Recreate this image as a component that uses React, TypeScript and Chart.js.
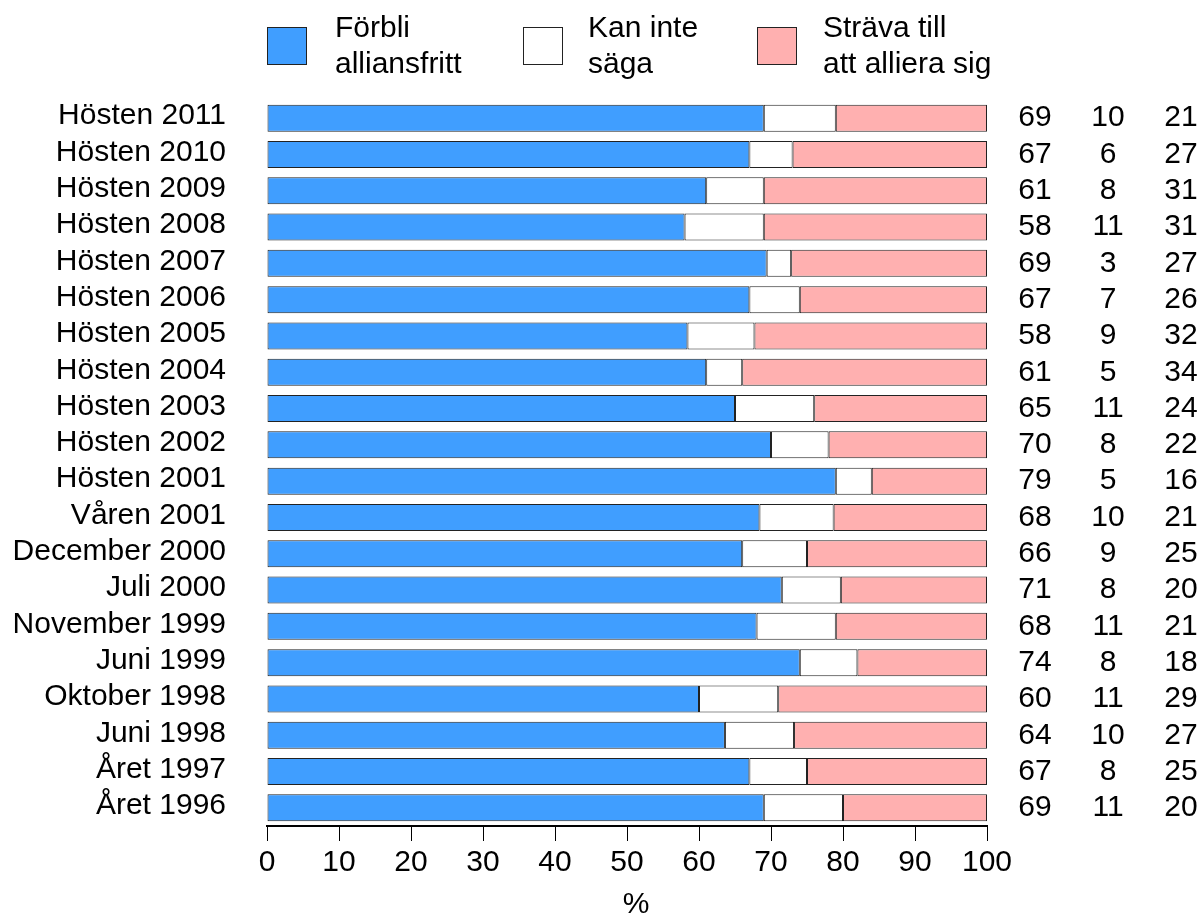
import React, { useEffect, useRef } from "react";
import { Chart, registerables } from "chart.js";

Chart.register(...registerables);

const categories = [
  "Hösten 2011", "Hösten 2010", "Hösten 2009", "Hösten 2008", "Hösten 2007",
  "Hösten 2006", "Hösten 2005", "Hösten 2004", "Hösten 2003", "Hösten 2002",
  "Hösten 2001", "Våren 2001", "December 2000", "Juli 2000", "November 1999",
  "Juni 1999", "Oktober 1998", "Juni 1998", "Året 1997", "Året 1996",
];

// Printed values (right-hand columns)
const labelAlliansfritt = [69, 67, 61, 58, 69, 67, 58, 61, 65, 70, 79, 68, 66, 71, 68, 74, 60, 64, 67, 69];
const labelKanInte = [10, 6, 8, 11, 3, 7, 9, 5, 11, 8, 5, 10, 9, 8, 11, 8, 11, 10, 8, 11];
const labelAlliera = [21, 27, 31, 31, 27, 26, 32, 34, 24, 22, 16, 21, 25, 20, 21, 18, 29, 27, 25, 20];

// Bar segment lengths
const barAlliansfritt = [69, 67, 61, 58, 69.4, 67, 58.4, 61, 65, 70, 79, 68.4, 66, 71.5, 68, 74, 60, 63.6, 67, 69];
const barKanInte = [10, 6, 8, 11, 3.4, 7, 9.3, 5, 11, 8, 5, 10.3, 9, 8.2, 11, 8, 11, 9.6, 8, 11];
const barAlliera = [21, 27, 31, 31, 27.2, 26, 32.3, 34, 24, 22, 16, 21.3, 25, 20.3, 21, 18, 29, 26.8, 25, 20];

const xTicks = [0, 10, 20, 30, 40, 50, 60, 70, 80, 90, 100];

const seriesNames = [["Förbli", "alliansfritt"], ["Kan inte", "säga"], ["Sträva till", "att alliera sig"]];
const colors = ["#409EFF", "#FFFFFF", "#FFB0B0"];

const FONT = "'Liberation Sans', Arial, sans-serif";

const overlay = {
  id: "overlay",
  afterDraw(chart: any) {
    const ctx = chart.ctx;
    const yScale = chart.scales.y;
    ctx.save();
    ctx.font = `30px ${FONT}`;
    ctx.fillStyle = "#000";
    // Legend
    const boxX = [267, 523, 757];
    const textX = [335, 588, 823];
    for (let i = 0; i < 3; i++) {
      ctx.fillStyle = colors[i];
      ctx.fillRect(boxX[i], 27, 39, 37);
      ctx.strokeStyle = "#222";
      ctx.lineWidth = 1;
      ctx.strokeRect(boxX[i] + 0.5, 27.5, 39, 37);
      ctx.fillStyle = "#000";
      ctx.textAlign = "left";
      ctx.textBaseline = "alphabetic";
      ctx.fillText(seriesNames[i][0], textX[i], 37);
      ctx.fillText(seriesNames[i][1], textX[i], 73);
    }
    // Right-hand value columns
    const colX = [1035, 1108, 1181];
    const cols = [labelAlliansfritt, labelKanInte, labelAlliera];
    ctx.textAlign = "center";
    ctx.textBaseline = "middle";
    categories.forEach((_, i) => {
      const y = yScale.getPixelForValue(i);
      cols.forEach((arr, c) => ctx.fillText(String(arr[i]), colX[c], y));
    });
    // Axis title
    ctx.fillText("%", 636, 905);
    ctx.restore();
  },
};

export default function App() {
  const ref = useRef<HTMLCanvasElement>(null);
  useEffect(() => {
    const chart = new Chart(ref.current!, {
      type: "bar",
      data: {
        labels: categories,
        datasets: [
          { label: "Förbli alliansfritt", data: barAlliansfritt, backgroundColor: colors[0] },
          { label: "Kan inte säga", data: barKanInte, backgroundColor: colors[1] },
          { label: "Sträva till att alliera sig", data: barAlliera, backgroundColor: colors[2] },
        ].map((d) => ({
          ...d,
          borderColor: "#222",
          borderWidth: 1,
          borderSkipped: false,
          barPercentage: 0.745,
          categoryPercentage: 1,
        })),
      },
      options: {
        indexAxis: "y",
        responsive: false,
        animation: false,
        devicePixelRatio: 1,
        layout: { padding: { left: 0, right: 216, top: 100, bottom: 0 } },
        plugins: { legend: { display: false }, tooltip: { enabled: false } },
        scales: {
          y: {
            stacked: true,
            grid: { display: false },
            border: { display: false },
            ticks: { color: "#000", font: { family: FONT, size: 30 }, padding: 33, autoSkip: false, labelOffset: -2 },
            afterFit: (s: any) => { s.width = 267; },
          },
          x: {
            stacked: true,
            min: 0,
            max: 100,
            afterBuildTicks: (s: any) => { s.ticks = xTicks.map((v) => ({ value: v })); },
            grid: { drawOnChartArea: false, drawTicks: true, tickLength: 15, color: "#000", lineWidth: 1 },
            border: { display: true, color: "#000", width: 2 },
            ticks: { color: "#000", font: { family: FONT, size: 30 }, padding: 4, maxRotation: 0 },
            afterFit: (s: any) => { s.height = 91; },
          },
        },
      },
      plugins: [overlay],
    });
    return () => chart.destroy();
  }, []);
  return (
    <div style={{ position: "fixed", left: 0, top: 0, width: 1203, height: 917, background: "#fff" }}>
      <canvas ref={ref} width={1203} height={917} style={{ width: 1203, height: 917 }} />
    </div>
  );
}
